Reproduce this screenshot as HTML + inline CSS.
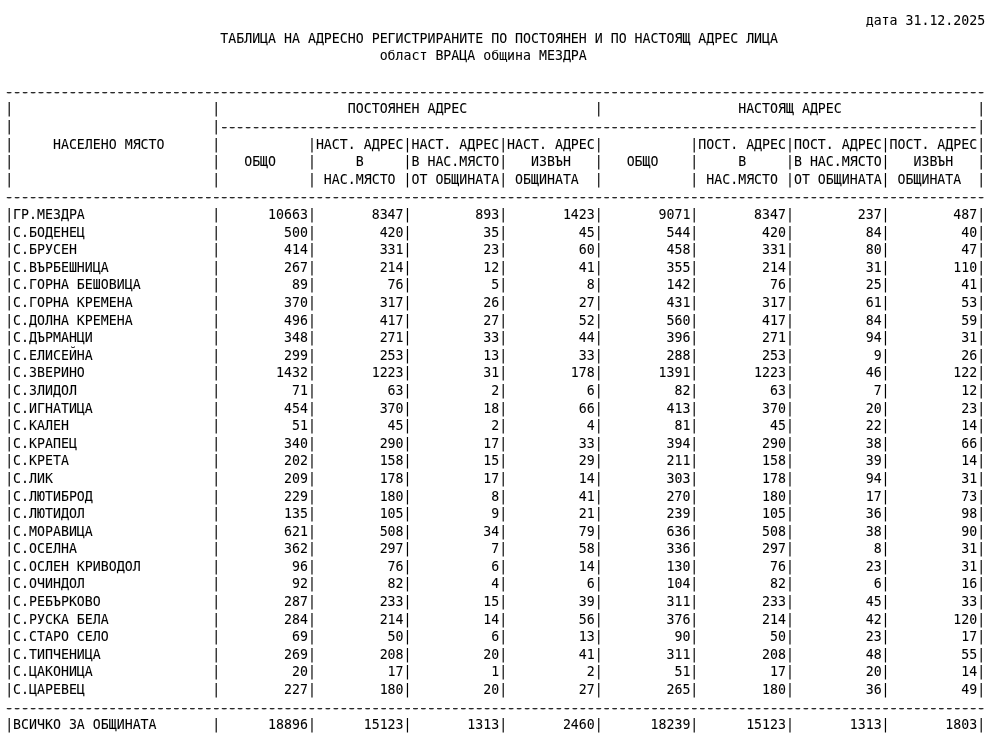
<!DOCTYPE html>
<html lang="bg"><head><meta charset="utf-8"><title>ТАБЛИЦА НА АДРЕСНО РЕГИСТРИРАНИТЕ ЛИЦА</title>
<style>
html,body{margin:0;padding:0;background:#fff;overflow:hidden;}
#t{position:relative;width:1000px;height:753px;overflow:hidden;font-family:"DejaVu Sans Mono","Liberation Mono",monospace;font-size:13.244px;color:#000;-webkit-text-stroke:0.06px #000;}
.l{position:absolute;left:5.15px;height:18px;line-height:18px;white-space:pre;margin:0;}
.l i{font-style:normal;position:relative;top:1px;color:#2a2a2a;-webkit-text-stroke:0;text-shadow:-0.65px 0 0 #2a2a2a, 0.65px 0 0 #2a2a2a;}
</style></head><body><div id="t">
<div class="l" style="top:12px">                                                                                                            дата 31.12.2025</div>
<div class="l" style="top:30px">                           ТАБЛИЦА НА АДРЕСНО РЕГИСТРИРАНИТЕ ПО ПОСТОЯНЕН И ПО НАСТОЯЩ АДРЕС ЛИЦА</div>
<div class="l" style="top:47px">                                               област ВРАЦА община МЕЗДРА</div>
<div class="l" style="top:83px"><i>---------------------------------------------------------------------------------------------------------------------------</i></div>
<div class="l" style="top:100px">|                         |                ПОСТОЯНЕН АДРЕС                |                 НАСТОЯЩ АДРЕС                 |</div>
<div class="l" style="top:118px">|                         |<i>-----------------------------------------------------------------------------------------------</i>|</div>
<div class="l" style="top:136px">|     НАСЕЛЕНО МЯСТО      |           |НАСТ. АДРЕС|НАСТ. АДРЕС|НАСТ. АДРЕС|           |ПОСТ. АДРЕС|ПОСТ. АДРЕС|ПОСТ. АДРЕС|</div>
<div class="l" style="top:153px">|                         |   ОБЩО    |     В     |В НАС.МЯСТО|   ИЗВЪН   |   ОБЩО    |     В     |В НАС.МЯСТО|   ИЗВЪН   |</div>
<div class="l" style="top:171px">|                         |           | НАС.МЯСТО |ОТ ОБЩИНАТА| ОБЩИНАТА  |           | НАС.МЯСТО |ОТ ОБЩИНАТА| ОБЩИНАТА  |</div>
<div class="l" style="top:188px"><i>---------------------------------------------------------------------------------------------------------------------------</i></div>
<div class="l" style="top:206px">|ГР.МЕЗДРА                |      10663|       8347|        893|       1423|       9071|       8347|        237|        487|</div>
<div class="l" style="top:224px">|С.БОДЕНЕЦ                |        500|        420|         35|         45|        544|        420|         84|         40|</div>
<div class="l" style="top:241px">|С.БРУСЕН                 |        414|        331|         23|         60|        458|        331|         80|         47|</div>
<div class="l" style="top:259px">|С.ВЪРБЕШНИЦА             |        267|        214|         12|         41|        355|        214|         31|        110|</div>
<div class="l" style="top:276px">|С.ГОРНА БЕШОВИЦА         |         89|         76|          5|          8|        142|         76|         25|         41|</div>
<div class="l" style="top:294px">|С.ГОРНА КРЕМЕНА          |        370|        317|         26|         27|        431|        317|         61|         53|</div>
<div class="l" style="top:312px">|С.ДОЛНА КРЕМЕНА          |        496|        417|         27|         52|        560|        417|         84|         59|</div>
<div class="l" style="top:329px">|С.ДЪРМАНЦИ               |        348|        271|         33|         44|        396|        271|         94|         31|</div>
<div class="l" style="top:347px">|С.ЕЛИСЕЙНА               |        299|        253|         13|         33|        288|        253|          9|         26|</div>
<div class="l" style="top:364px">|С.ЗВЕРИНО                |       1432|       1223|         31|        178|       1391|       1223|         46|        122|</div>
<div class="l" style="top:382px">|С.ЗЛИДОЛ                 |         71|         63|          2|          6|         82|         63|          7|         12|</div>
<div class="l" style="top:400px">|С.ИГНАТИЦА               |        454|        370|         18|         66|        413|        370|         20|         23|</div>
<div class="l" style="top:417px">|С.КАЛЕН                  |         51|         45|          2|          4|         81|         45|         22|         14|</div>
<div class="l" style="top:435px">|С.КРАПЕЦ                 |        340|        290|         17|         33|        394|        290|         38|         66|</div>
<div class="l" style="top:452px">|С.КРЕТА                  |        202|        158|         15|         29|        211|        158|         39|         14|</div>
<div class="l" style="top:470px">|С.ЛИК                    |        209|        178|         17|         14|        303|        178|         94|         31|</div>
<div class="l" style="top:488px">|С.ЛЮТИБРОД               |        229|        180|          8|         41|        270|        180|         17|         73|</div>
<div class="l" style="top:505px">|С.ЛЮТИДОЛ                |        135|        105|          9|         21|        239|        105|         36|         98|</div>
<div class="l" style="top:523px">|С.МОРАВИЦА               |        621|        508|         34|         79|        636|        508|         38|         90|</div>
<div class="l" style="top:540px">|С.ОСЕЛНА                 |        362|        297|          7|         58|        336|        297|          8|         31|</div>
<div class="l" style="top:558px">|С.ОСЛЕН КРИВОДОЛ         |         96|         76|          6|         14|        130|         76|         23|         31|</div>
<div class="l" style="top:575px">|С.ОЧИНДОЛ                |         92|         82|          4|          6|        104|         82|          6|         16|</div>
<div class="l" style="top:593px">|С.РЕБЪРКОВО              |        287|        233|         15|         39|        311|        233|         45|         33|</div>
<div class="l" style="top:611px">|С.РУСКА БЕЛА             |        284|        214|         14|         56|        376|        214|         42|        120|</div>
<div class="l" style="top:628px">|С.СТАРО СЕЛО             |         69|         50|          6|         13|         90|         50|         23|         17|</div>
<div class="l" style="top:646px">|С.ТИПЧЕНИЦА              |        269|        208|         20|         41|        311|        208|         48|         55|</div>
<div class="l" style="top:663px">|С.ЦАКОНИЦА               |         20|         17|          1|          2|         51|         17|         20|         14|</div>
<div class="l" style="top:681px">|С.ЦАРЕВЕЦ                |        227|        180|         20|         27|        265|        180|         36|         49|</div>
<div class="l" style="top:699px"><i>---------------------------------------------------------------------------------------------------------------------------</i></div>
<div class="l" style="top:716px">|ВСИЧКО ЗА ОБЩИНАТА       |      18896|      15123|       1313|       2460|      18239|      15123|       1313|       1803|</div>
</div></body></html>
